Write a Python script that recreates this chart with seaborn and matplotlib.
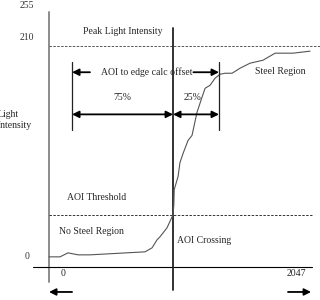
"""Light intensity profile across the AOI, with the edge offset split."""
import matplotlib
matplotlib.use("Agg")
import matplotlib.pyplot as plt
import pandas as pd
import seaborn as sns

# pixel position along the line scan and measured light intensity
position = [0, 86, 148, 227, 320, 750, 805, 844, 867, 922, 969, 975, 978,
            1008, 1023, 1047, 1086, 1117, 1156, 1195, 1219, 1258, 1297, 1336,
            1375, 1430, 1492, 1570, 1672, 1766, 1906, 2039]
intensity = [0, 0, 4, 2, 2, 5, 9, 17, 20, 29, 42, 52, 67,
             80, 94, 103, 116, 121, 144, 159, 168, 171, 178, 182,
             183, 183, 188, 193, 196, 203, 203, 205]

y_ticks = [255, 210, 0]
x_ticks = [0, 2047]
peak = 210
threshold = 42
crossing = 969
offset_left = 180
offset_right = 1328


def main():
    """builds the figure and saves it"""
    data = pd.DataFrame({"position": position, "intensity": intensity})
    sns.set_theme(style="white")
    plt.rcParams["font.family"] = ["Liberation Serif", "DejaVu Serif"]
    fs = 7

    fig = plt.figure(figsize=(3.2, 3.0), dpi=100)
    ax = fig.add_axes([0, 0, 1, 1])
    ax.set_xlim(-383, 2117)
    ax.set_ylim(-43, 256)
    ax.axis("off")

    # axes drawn by hand, as in the sketch
    ax.axvline(0, ymin=18 / 300, ymax=288 / 300, color="#8c8c8c", lw=1.4)
    ax.axhline(-10, xmin=33 / 320, xmax=312 / 320, color="black", lw=0.8)
    ax.axhline(peak, xmin=49 / 320, xmax=1, color="#555555", lw=0.7,
               ls=(0, (2.5, 1.5)))
    ax.axhline(threshold, xmin=49 / 320, xmax=312 / 320, color="#333333",
               lw=0.7, ls=(0, (2.5, 1.5)))
    ax.axvline(crossing, ymin=10 / 300, ymax=272 / 300, color="#222222", lw=1.3)

    sns.lineplot(data=data, x="position", y="intensity", ax=ax, sort=False,
                 color="#555555", lw=0.8)

    # offset markers
    for xv in (offset_left, offset_right):
        ax.axvline(xv, ymin=170 / 300, ymax=238 / 300, color="#222222", lw=0.9)
    arr = dict(arrowstyle="-|>", color="black", lw=1.3, mutation_scale=10,
               shrinkA=0, shrinkB=0)
    darr = dict(arrowstyle="<|-|>", color="black", lw=1.3, mutation_scale=10,
                shrinkA=0, shrinkB=0)
    ax.annotate("", xy=(offset_left, 184), xytext=(offset_left + 140, 184),
                arrowprops=arr)
    ax.annotate("", xy=(offset_right, 184), xytext=(offset_right - 200, 184),
                arrowprops=arr)
    ax.annotate("", xy=(offset_left, 142), xytext=(crossing, 142),
                arrowprops=darr)
    ax.annotate("", xy=(crossing, 142), xytext=(offset_right, 142),
                arrowprops=darr)
    ax.annotate("", xy=(x_ticks[0], -35), xytext=(x_ticks[0] + 180, -35),
                arrowprops=arr)
    ax.annotate("", xy=(x_ticks[1], -35), xytext=(x_ticks[1] - 180, -35),
                arrowprops=arr)

    # labels
    for yv, yp in zip(y_ticks, [251, 219, 0]):
        ax.text(-170, yp, str(yv), fontsize=fs, ha="center", va="center",
                color="#333333")
    ax.text(110, -17, str(x_ticks[0]), fontsize=fs, ha="center", va="center")
    ax.text(1930, -17, str(x_ticks[1]), fontsize=fs, ha="center", va="center")
    ax.text(-400, 136, "Light\nIntensity", fontsize=fs, ha="left",
            va="center", linespacing=1.3)
    ax.text(578, 225, "Peak Light Intensity", fontsize=fs, ha="center",
            va="center")
    ax.text(760, 184, "AOI to edge calc offset", fontsize=fs, ha="center",
            va="center")
    ax.text(570, 159, "75%", fontsize=fs, ha="center", va="center")
    ax.text(1125, 159, "25%", fontsize=fs, ha="center", va="center")
    ax.text(1805, 185, "Steel Region", fontsize=fs, ha="center", va="center")
    ax.text(375, 59, "AOI Threshold", fontsize=fs, ha="center", va="center")
    ax.text(335, 25, "No Steel Region", fontsize=fs, ha="center", va="center")
    ax.text(1000, 16, "AOI Crossing", fontsize=fs, ha="left", va="center")

    fig.savefig("out.png", dpi=100)
    plt.close(fig)


if __name__ == "__main__":
    main()
